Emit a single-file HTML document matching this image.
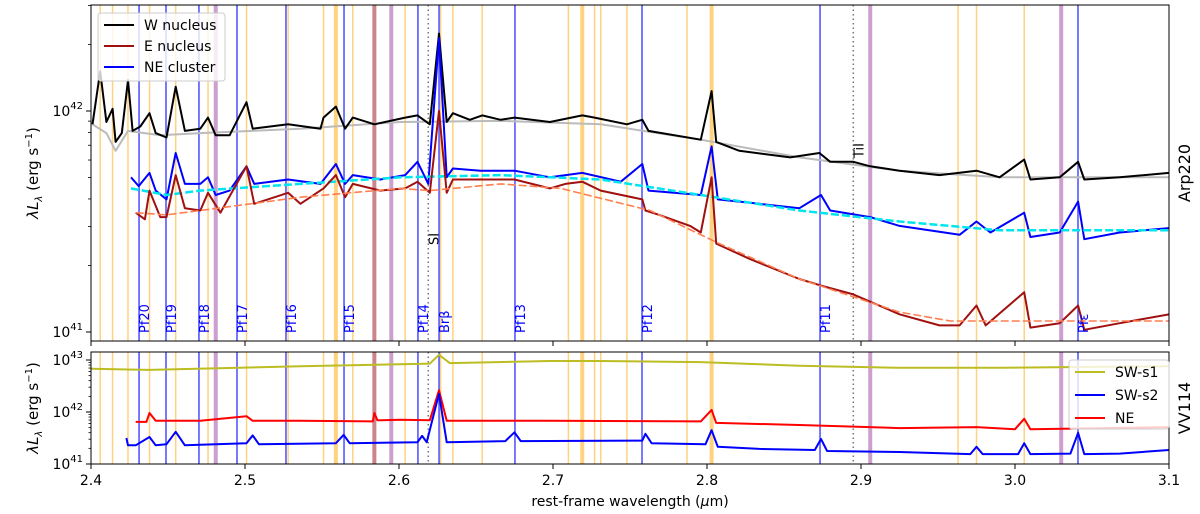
<!DOCTYPE html>
<html><head><meta charset="utf-8">
<style>
html,body{margin:0;padding:0;background:#fff;}
svg{display:block;font-family:"DejaVu Sans","Liberation Sans",sans-serif;}
</style></head>
<body>
<svg id="chart" width="1200" height="514" viewBox="0 0 1200 514" xmlns="http://www.w3.org/2000/svg">
<defs>
<clipPath id="clipTop"><rect x="91" y="5" width="1078" height="336"/></clipPath>
<clipPath id="clipBot"><rect x="91" y="352" width="1078" height="112"/></clipPath>
</defs>
<g id="topLines" clip-path="url(#clipTop)"></g>
<g id="botLines" clip-path="url(#clipBot)"></g>
<g id="topSeries" clip-path="url(#clipTop)"></g>
<g id="botSeries" clip-path="url(#clipBot)"></g>
<g id="axes"></g>
</svg>
<script>
// ---- data ----
const orangeLines = [2.406,2.414,2.424,2.438,2.455,2.476,2.501,2.528,2.551,2.570,2.604,2.627,2.635,2.654,2.710,2.727,2.731,2.748,2.787,2.963,2.975,3.006];
const orangeThick = [2.559,2.719,2.803];
const purpleLines = [2.481,2.595,2.906,3.030];
const brownLines = [2.584];
const pfLines = [2.4312,2.4487,2.4701,2.4948,2.5266,2.5643,2.6123,2.6260,2.6753,2.7578,2.8734,3.0409];
const pfLabels = ["Pf20","Pf19","Pf18","Pf17","Pf16","Pf15","Pf14","Brβ","Pf13","Pf12","Pf11","Pfε"];
const dottedLines = [2.619,2.895];
const dottedLabels = ["SI","TiI"];

const wLam = [2.401,2.406,2.410,2.414,2.416,2.420,2.424,2.427,2.432,2.438,2.442,2.449,2.455,2.461,2.471,2.476,2.481,2.490,2.501,2.505,2.528,2.549,2.551,2.559,2.565,2.570,2.584,2.604,2.612,2.620,2.626,2.631,2.635,2.646,2.654,2.666,2.675,2.698,2.719,2.727,2.748,2.758,2.762,2.796,2.803,2.806,2.821,2.854,2.873,2.880,2.895,2.906,2.925,2.951,2.975,2.990,3.006,3.010,3.029,3.041,3.045,3.068,3.1];
const wLog = [41.94,42.18,41.95,42.01,41.86,41.90,42.14,41.91,41.93,41.99,41.90,41.88,42.11,41.91,41.92,41.97,41.89,41.89,42.04,41.92,41.94,41.92,41.97,42.02,41.92,41.97,41.94,41.97,41.98,41.94,42.35,41.95,41.99,41.96,41.98,41.96,41.97,41.95,41.98,41.97,41.94,41.96,41.91,41.87,42.09,41.86,41.82,41.79,41.81,41.77,41.77,41.75,41.73,41.71,41.73,41.70,41.78,41.69,41.70,41.77,41.69,41.70,41.72];
const wModLam = [2.401,2.410,2.416,2.424,2.445,2.471,2.536,2.601,2.666,2.731,2.796,2.860,2.925,2.990,3.1];
const wModLog = [41.94,41.90,41.82,41.91,41.89,41.90,41.92,41.95,41.955,41.94,41.87,41.79,41.73,41.70,41.70];

const neLam = [2.426,2.431,2.438,2.442,2.449,2.455,2.461,2.471,2.476,2.481,2.490,2.501,2.506,2.528,2.549,2.559,2.565,2.570,2.588,2.604,2.612,2.619,2.626,2.631,2.635,2.653,2.675,2.698,2.719,2.744,2.758,2.762,2.796,2.803,2.807,2.834,2.860,2.874,2.880,2.906,2.925,2.964,2.975,2.984,3.006,3.010,3.029,3.041,3.045,3.068,3.1];
const neLog = [41.70,41.66,41.72,41.64,41.60,41.81,41.67,41.67,41.70,41.62,41.64,41.75,41.67,41.69,41.67,41.76,41.67,41.71,41.69,41.71,41.77,41.67,42.33,41.70,41.74,41.73,41.73,41.70,41.72,41.68,41.76,41.64,41.62,41.84,41.60,41.58,41.56,41.62,41.55,41.52,41.48,41.44,41.50,41.45,41.54,41.43,41.45,41.59,41.42,41.45,41.47];
const neModLam = [2.426,2.449,2.471,2.536,2.601,2.666,2.731,2.796,2.860,2.925,2.990,3.1];
const neModLog = [41.65,41.62,41.64,41.67,41.70,41.71,41.69,41.62,41.55,41.50,41.46,41.46];

const eLam = [2.429,2.435,2.438,2.445,2.449,2.455,2.461,2.471,2.476,2.484,2.501,2.506,2.528,2.536,2.551,2.559,2.565,2.570,2.588,2.604,2.612,2.620,2.626,2.631,2.635,2.653,2.675,2.698,2.708,2.719,2.731,2.758,2.760,2.769,2.789,2.796,2.803,2.806,2.828,2.860,2.874,2.895,2.925,2.951,2.964,2.975,2.981,3.006,3.010,3.029,3.041,3.045,3.068,3.1];
const eLog = [41.54,41.51,41.64,41.52,41.52,41.71,41.56,41.55,41.63,41.54,41.75,41.58,41.63,41.58,41.65,41.71,41.61,41.67,41.64,41.65,41.68,41.63,42.00,41.63,41.69,41.69,41.69,41.65,41.67,41.68,41.64,41.60,41.55,41.53,41.48,41.45,41.70,41.40,41.33,41.24,41.21,41.17,41.08,41.03,41.03,41.12,41.03,41.18,41.02,41.04,41.12,41.01,41.04,41.08];
const eModLam = [2.429,2.449,2.471,2.536,2.601,2.620,2.666,2.705,2.763,2.808,2.860,2.925,2.958,3.1];
const eModLog = [41.54,41.53,41.55,41.61,41.65,41.64,41.67,41.65,41.55,41.40,41.24,41.09,41.05,41.05];

const s1Lam = [2.4,2.438,2.536,2.601,2.620,2.626,2.633,2.698,2.731,2.796,2.860,2.925,2.990,3.1];
const s1Log = [42.83,42.81,42.88,42.92,42.93,43.10,42.94,42.98,42.98,42.96,42.89,42.85,42.85,42.88];
const nebLam = [2.429,2.436,2.438,2.442,2.471,2.501,2.505,2.536,2.583,2.584,2.586,2.601,2.620,2.626,2.631,2.698,2.796,2.803,2.806,2.860,2.925,2.975,3.0,3.006,3.010,3.1];
const nebLog = [41.81,41.81,41.98,41.83,41.83,41.92,41.83,41.83,41.82,41.98,41.84,41.85,41.84,42.42,41.83,41.83,41.82,42.04,41.79,41.75,41.69,41.71,41.67,41.87,41.67,41.71];
const s2Lam = [2.423,2.424,2.429,2.438,2.442,2.449,2.455,2.461,2.501,2.505,2.509,2.559,2.564,2.568,2.612,2.615,2.618,2.626,2.631,2.669,2.675,2.679,2.758,2.760,2.764,2.799,2.803,2.807,2.834,2.870,2.874,2.878,2.925,2.971,2.975,2.979,3.002,3.006,3.010,3.036,3.041,3.045,3.068,3.1];
const s2Log = [41.50,41.36,41.36,41.52,41.36,41.38,41.62,41.36,41.40,41.55,41.38,41.40,41.56,41.40,41.42,41.54,41.42,42.35,41.42,41.44,41.61,41.44,41.45,41.58,41.40,41.38,41.65,41.33,41.29,41.27,41.48,41.25,41.23,41.19,41.33,41.19,41.19,41.40,41.19,41.20,41.60,41.19,41.20,41.27];

const xTicks = [2.4,2.5,2.6,2.7,2.8,2.9,3.0,3.1];
const xTickLabels = ["2.4","2.5","2.6","2.7","2.8","2.9","3.0","3.1"];

// ---- axis functions ----
const X0=91, X1=1169, LMIN=2.4, LMAX=3.1;
const xs = l => X0 + (l-LMIN)/(LMAX-LMIN)*(X1-X0);
const yTop = lg => 332 - (lg-41)*221;
const yBot = lg => 464 - (lg-41)*52;

const NS="http://www.w3.org/2000/svg";
function mk(tag, attrs, parent){const e=document.createElementNS(NS,tag);for(const k in attrs)e.setAttribute(k,attrs[k]);parent.appendChild(e);return e;}

// vertical lines for both panels
[["topLines",5,341],["botLines",352,464]].forEach(([id,y0,y1])=>{
  const g=document.getElementById(id);
  orangeLines.forEach(l=>{const e=mk("line",{x1:xs(l),x2:xs(l),y1:y0,y2:y1,stroke:"#ffa500","stroke-opacity":0.5,"stroke-width":1.5},g);
    
    });
  orangeThick.forEach(l=>{const e=mk("line",{x1:xs(l),x2:xs(l),y1:y0,y2:y1,stroke:"#ffa500","stroke-opacity":0.5,"stroke-width":4},g);
    
    });
  purpleLines.forEach(l=>{const e=mk("line",{x1:xs(l),x2:xs(l),y1:y0,y2:y1,stroke:"#9b3fa0","stroke-opacity":0.5,"stroke-width":4},g);
    
    });
  brownLines.forEach(l=>{const e=mk("line",{x1:xs(l),x2:xs(l),y1:y0,y2:y1,stroke:"#b5505a","stroke-opacity":0.7,"stroke-width":4},g);
    
    });
  pfLines.forEach(l=>{const e=mk("line",{x1:xs(l),x2:xs(l),y1:y0,y2:y1,stroke:"#0000ff","stroke-opacity":0.7,"stroke-width":1.5},g);
    
    });
  dottedLines.forEach(l=>{const e=mk("line",{x1:xs(l),x2:xs(l),y1:y0,y2:y1,stroke:"#777","stroke-width":1.5,"stroke-dasharray":"1.5,3"},g);
    
    });
});

function series(gid, lam, lg, yf, color, width, dash, name){
  const g=document.getElementById(gid);
  const d=lam.map((l,i)=>(i?"L":"M")+xs(l).toFixed(1)+","+yf(lg[i]).toFixed(1)).join("");
  const p=mk("path",{d:d,fill:"none",stroke:color,"stroke-width":width,"stroke-linejoin":"round"},g);
  if(dash)p.setAttribute("stroke-dasharray",dash);
  
  
}
series("topSeries",wModLam,wModLog,yTop,"#bbbbbb",2,null,"w-nucleus-model");
series("topSeries",wLam,wLog,yTop,"#000000",2,null,"w-nucleus-line");
series("topSeries",neLam,neLog,yTop,"#0000ff",2,null,"ne-cluster-line");
series("topSeries",neModLam,neModLog,yTop,"#00e5ee",2.5,"8,3","ne-cluster-model");
series("topSeries",eLam,eLog,yTop,"#a01010",2,null,"e-nucleus-line");
series("topSeries",eModLam,eModLog,yTop,"#ff7f50",1.6,"8,3","e-nucleus-model");
series("botSeries",s1Lam,s1Log,yBot,"#bcbd22",2,null,"sw-s1-line");
series("botSeries",nebLam,nebLog,yBot,"#ff0000",2,null,"ne-line");
series("botSeries",s2Lam,s2Log,yBot,"#0000ff",2,null,"sw-s2-line");

// ---- axes ----
const ax=document.getElementById("axes");
function txt(x,y,s,attrs,name){const t=mk("text",Object.assign({x:x,y:y},attrs||{}),ax);t.textContent=s;
  
  return t;}
// pf labels
pfLines.forEach((l,i)=>{const x=xs(l)+10;const t=mk("text",{x:0,y:0,transform:`translate(${x},333) rotate(-90)`,fill:"#0000ff","font-size":13},ax);t.textContent=pfLabels[i];
  
  });
[[dottedLines[0],245],[dottedLines[1],158]].forEach(([l,y],i)=>{const x=xs(l)+10;const t=mk("text",{x:0,y:0,transform:`translate(${x},${y}) rotate(-90)`,fill:"#000","font-size":13},ax);t.textContent=dottedLabels[i];
  
  });
// frames
const f1=mk("rect",{x:91,y:5,width:1078,height:336,fill:"none",stroke:"#000","stroke-width":1},ax);


const f2=mk("rect",{x:91,y:352,width:1078,height:112,fill:"none",stroke:"#000","stroke-width":1},ax);


// x ticks
xTicks.forEach((v,i)=>{const x=xs(v);
  mk("line",{x1:x,x2:x,y1:341,y2:346,stroke:"#000"},ax);
  mk("line",{x1:x,x2:x,y1:464,y2:469,stroke:"#000"},ax);
  txt(x,485,xTickLabels[i],{"text-anchor":"middle","font-size":14},"x-tick-label");});
// y ticks top
[[41,"41"],[42,"42"]].forEach(([d,s])=>{const y=yTop(d);mk("line",{x1:86,x2:91,y1:y,y2:y,stroke:"#000"},ax);
  const t=txt(83,y+5,"10",{"text-anchor":"end","font-size":14},"y-tick-label");const ts=mk("tspan",{dy:-7,"font-size":10},t);ts.textContent=s;});
for(let d=41;d<43;d++)for(let m=2;m<10;m++){const y=yTop(d+Math.log10(m));if(y<5)continue;mk("line",{x1:88,x2:91,y1:y,y2:y,stroke:"#000","stroke-width":0.8},ax);}
[[41,"41"],[42,"42"],[43,"43"]].forEach(([d,s])=>{const y=yBot(d);mk("line",{x1:86,x2:91,y1:y,y2:y,stroke:"#000"},ax);
  const t=txt(83,y+5,"10",{"text-anchor":"end","font-size":14},"y-tick-label");const ts=mk("tspan",{dy:-7,"font-size":10},t);ts.textContent=s;});
for(let d=41;d<43;d++)for(let m=2;m<10;m++){const y=yBot(d+Math.log10(m));mk("line",{x1:88.5,x2:91,y1:y,y2:y,stroke:"#000","stroke-width":0.8},ax);}
// axis titles
function ytitle(x,y,name){const t=mk("text",{x:0,y:0,transform:`translate(${x},${y}) rotate(-90)`,"text-anchor":"middle","font-size":15},ax);
  t.innerHTML='<tspan font-style="italic">λL</tspan><tspan font-style="italic" font-size="10" dy="4">λ</tspan><tspan dy="-4"> (erg s</tspan><tspan font-size="10" dy="-6">−1</tspan><tspan dy="6">)</tspan>';
  
  }
ytitle(38,173,"y-axis-title-top");
ytitle(38,408,"y-axis-title-bottom");
const a1=mk("text",{x:0,y:0,transform:"translate(1190,173) rotate(-90)","text-anchor":"middle","font-size":16},ax);a1.textContent="Arp220";


const a2=mk("text",{x:0,y:0,transform:"translate(1190,408) rotate(-90)","text-anchor":"middle","font-size":16},ax);a2.textContent="VV114";


const xt=txt(630,506,"",{"text-anchor":"middle","font-size":14},"x-axis-title");
xt.innerHTML='rest-frame wavelength (<tspan font-style="italic">μ</tspan>m)';

// legends
function legend(x,y,w,h,items,name){
  const g=mk("g",{},ax);
  
  
  mk("rect",{x:x,y:y,width:w,height:h,rx:3,fill:"#fff","fill-opacity":0.8,stroke:"#ccc"},g);
  items.forEach((it,i)=>{const yy=y+12+i*it[2];
    const e=mk("g",{},g);
    
    
    mk("line",{x1:x+6,x2:x+36,y1:yy,y2:yy,stroke:it[1],"stroke-width":2},e);
    const t=mk("text",{x:x+46,y:yy+5,"font-size":14},e);t.textContent=it[0];});
}
legend(98,13,127,68,[["W nucleus","#000",21],["E nucleus","#a01010",21],["NE cluster","#0000ff",21]],"legend-arp220");
legend(1069,360,100,69,[["SW-s1","#bcbd22",23],["SW-s2","#0000ff",23],["NE","#ff0000",23]],"legend-vv114");
</script>
</body></html>
